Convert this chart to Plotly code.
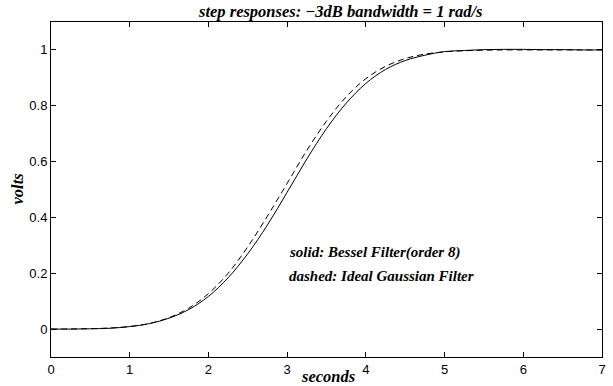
import plotly.graph_objects as go

t = [0, 0.25, 0.5, 0.75, 1.0, 1.25, 1.5, 1.75, 2.0, 2.25, 2.5, 2.75, 3.0, 3.25,
     3.5, 3.75, 4.0, 4.25, 4.5, 4.75, 5.0, 5.25, 5.5, 5.75, 6.0, 6.25, 6.5, 6.75, 7.0]

bessel = [0.000, 0.000, 0.001, 0.003, 0.009, 0.0195, 0.039, 0.070, 0.117, 0.184,
          0.270, 0.373, 0.490, 0.609, 0.718, 0.809, 0.880, 0.930, 0.962, 0.981,
          0.994, 0.998, 1.001, 1.002, 1.002, 1.001, 1.001, 1.000, 1.000]

gaussian = [0.000, 0.0005, 0.0015, 0.004, 0.009, 0.020, 0.041, 0.075, 0.127, 0.200,
            0.295, 0.405, 0.522, 0.640, 0.745, 0.832, 0.897, 0.941, 0.969, 0.985,
            0.993, 0.997, 0.999, 1.000, 1.000, 1.000, 1.000, 1.000, 1.000]

x_ticks = [0, 1, 2, 3, 4, 5, 6, 7]
y_ticks = [0, 0.2, 0.4, 0.6, 0.8, 1]
y_tick_labels = ["0", "0.2", "0.4", "0.6", "0.8", "1"]

title_text = "step responses: \u22123dB bandwidth = 1 rad/s"
x_label = "seconds"
y_label = "volts"
notes = ["solid: Bessel Filter(order 8)", "dashed: Ideal Gaussian Filter"]
note_y = [0.275, 0.19]

serif = "Liberation Serif, Times New Roman, serif"
sans = "Liberation Sans, Arial, Helvetica, sans-serif"

fig = go.Figure()
fig.add_trace(go.Scatter(x=t, y=gaussian, mode="lines", line_shape="spline",
                         line=dict(color="black", width=1, dash="6px,4px"),
                         showlegend=False, hoverinfo="skip"))
fig.add_trace(go.Scatter(x=t, y=bessel, mode="lines", line_shape="spline",
                         line=dict(color="black", width=1),
                         showlegend=False, hoverinfo="skip"))

axis_common = dict(showline=True, mirror="ticks", linecolor="black", linewidth=1,
                   ticks="inside", ticklen=5, tickcolor="black", tickwidth=1,
                   showgrid=False, zeroline=False,
                   tickfont=dict(family=sans, size=13, color="black"))

fig.update_xaxes(range=[0, 7], tickvals=x_ticks, **axis_common)
fig.update_yaxes(range=[-0.1, 1.1], tickvals=y_ticks, ticktext=y_tick_labels, **axis_common)

annotations = [
    dict(text="<b><i>" + title_text + "</i></b>", xref="paper", yref="paper",
         x=(342 - 51) / 555, y=1, yshift=11, xanchor="center", yanchor="middle",
         showarrow=False, font=dict(family=serif, size=16.5, color="black")),
    dict(text="<b><i>" + x_label + "</i></b>", xref="paper", yref="paper",
         x=(330 - 51) / 555, y=0, yshift=-19, xanchor="center", yanchor="middle",
         showarrow=False, font=dict(family=serif, size=16.5, color="black")),
    dict(text="<b><i>" + y_label + "</i></b>", xref="paper", yref="paper",
         x=0, xshift=-34, y=0.5, xanchor="center", yanchor="middle", textangle=-90,
         showarrow=False, font=dict(family=serif, size=16.5, color="black")),
]
for txt, yy in zip(notes, note_y):
    annotations.append(dict(text="<b><i>" + txt + "</i></b>", xref="x", yref="y",
                            x=3.0, y=yy, xanchor="left", yanchor="middle", showarrow=False,
                            font=dict(family=serif, size=15, color="black")))

fig.update_layout(width=613, height=386, margin=dict(l=51, r=7, t=22, b=29),
                  paper_bgcolor="white", plot_bgcolor="white",
                  annotations=annotations)

fig.write_html("out.html")
